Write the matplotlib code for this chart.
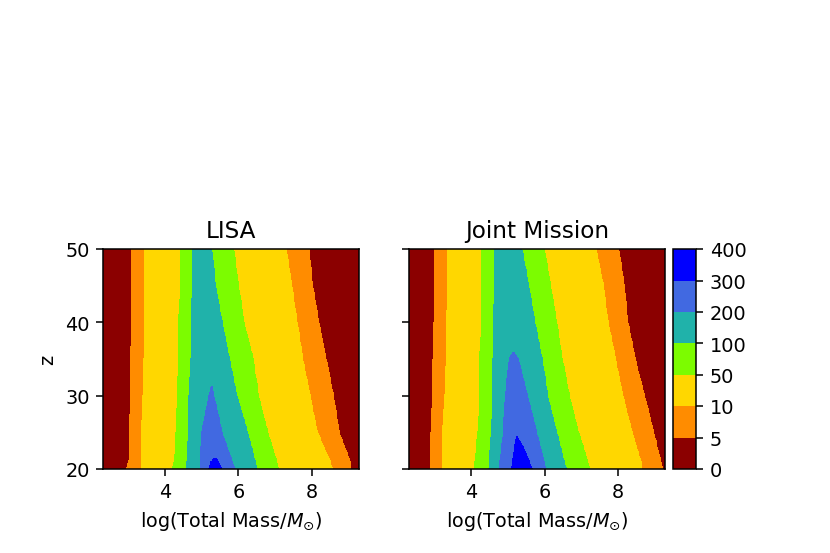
import numpy as np
import matplotlib
matplotlib.use("Agg")
import matplotlib.pyplot as plt

# Contour levels and colours
levels = [0, 5, 10, 50, 100, 200, 300, 400]
colors = ["darkred", "darkorange", "gold", "lawngreen",
          "lightseagreen", "royalblue", "blue"]
band_values = [2.5, 7.5, 30, 75, 150, 250, 350]

z_rows = [20, 21, 25, 30, 35, 40, 45, 50]

# LISA: x position (log total mass) of each contour edge at each z row
lisa_5L = [2.95, 3.00, 3.03, 3.05, 3.05, 3.08, 3.10, 3.10]
lisa_10L = [3.35, 3.35, 3.37, 3.40, 3.42, 3.43, 3.45, 3.45]
lisa_50L = [4.20, 4.25, 4.30, 4.33, 4.35, 4.37, 4.42, 4.43]
lisa_100L = [4.60, 4.60, 4.63, 4.66, 4.70, 4.72, 4.75, 4.75]
lisa_100R = [6.50, 6.45, 6.25, 5.95, 5.75, 5.55, 5.37, 5.27]
lisa_50R = [7.10, 7.05, 6.80, 6.55, 6.40, 6.15, 6.00, 5.87]
lisa_10R = [8.55, 8.50, 8.15, 7.95, 7.75, 7.60, 7.45, 7.30]
lisa_5R = [9.05, 9.05, 8.75, 8.60, 8.40, 8.20, 8.03, 7.93]
lisa_200_z = [20, 25, 30, 31.5]
lisa_200L = [4.95, 5.00, 5.20, 5.27]
lisa_200R = [5.90, 5.55, 5.33, 5.27]
lisa_300_z = [20, 21, 21.6]
lisa_300L = [5.20, 5.25, 5.37]
lisa_300R = [5.55, 5.45, 5.37]

# Joint Mission
joint_5L = [2.88, 2.88, 2.90, 2.93, 2.96, 2.98, 3.00, 3.00]
joint_10L = [3.23, 3.23, 3.23, 3.28, 3.33, 3.33, 3.36, 3.36]
joint_50L = [4.08, 4.10, 4.18, 4.23, 4.23, 4.28, 4.30, 4.30]
joint_100L = [4.48, 4.50, 4.55, 4.58, 4.60, 4.61, 4.63, 4.64]
joint_100R = [6.60, 6.53, 6.33, 6.08, 5.93, 5.73, 5.56, 5.38]
joint_50R = [7.23, 7.18, 6.93, 6.68, 6.48, 6.33, 6.16, 6.00]
joint_10R = [8.63, 8.63, 8.38, 8.13, 7.93, 7.73, 7.60, 7.40]
joint_5R = [9.23, 9.18, 8.98, 8.73, 8.48, 8.28, 8.18, 8.03]
joint_200_z = [20, 21, 25, 30, 35, 36]
joint_200L = [4.78, 4.78, 4.88, 4.93, 5.03, 5.15]
joint_200R = [6.03, 5.98, 5.78, 5.53, 5.28, 5.15]
joint_300_z = [20, 21, 23, 24.5]
joint_300L = [5.09, 5.13, 5.18, 5.24]
joint_300R = [5.66, 5.58, 5.42, 5.24]

x_grid = np.linspace(2.3, 9.3, 351)
z_grid = np.linspace(20, 50, 151)


def build_field(outer, z200, l200, r200, z300, l300, r300):
    X, Z = np.meshgrid(x_grid, z_grid)
    band = np.zeros(X.shape, dtype=int)
    for k, (left, right) in enumerate(outer, start=1):
        lo = np.interp(z_grid, z_rows, left)[:, None]
        hi = np.interp(z_grid, z_rows, right)[:, None]
        band = np.where((X >= lo) & (X <= hi), k, band)
    for k, (zz, left, right) in ((5, (z200, l200, r200)), (6, (z300, l300, r300))):
        lo = np.interp(z_grid, zz, left, right=np.inf)[:, None]
        hi = np.interp(z_grid, zz, right, right=-np.inf)[:, None]
        band = np.where((X >= lo) & (X <= hi), k, band)
    return X, Z, np.array(band_values)[band]


lisa = build_field([(lisa_5L, lisa_5R), (lisa_10L, lisa_10R),
                    (lisa_50L, lisa_50R), (lisa_100L, lisa_100R)],
                   lisa_200_z, lisa_200L, lisa_200R,
                   lisa_300_z, lisa_300L, lisa_300R)
joint = build_field([(joint_5L, joint_5R), (joint_10L, joint_10R),
                     (joint_50L, joint_50R), (joint_100L, joint_100R)],
                    joint_200_z, joint_200L, joint_200R,
                    joint_300_z, joint_300L, joint_300R)

fig = plt.figure(figsize=(6.0, 4.0), dpi=138.4)
ax1 = fig.add_axes([103 / 830, 84 / 554, 256 / 830, 220 / 554])
ax2 = fig.add_axes([409 / 830, 84 / 554, 256 / 830, 220 / 554], sharey=ax1)
cax = fig.add_axes([672.7 / 830, 84 / 554, 23.3 / 830, 220 / 554])

cs = ax1.contourf(*lisa, levels=levels, colors=colors)
ax2.contourf(*joint, levels=levels, colors=colors)

ax1.set_title("LISA")
ax2.set_title("Joint Mission")
for ax in (ax1, ax2):
    ax.set_xlabel(r"log(Total Mass/$M_{\odot}$)")
    ax.set_xticks([4, 6, 8])
ax1.set_yticks([20, 30, 40, 50])
ax1.set_ylabel("z")
plt.setp(ax2.get_yticklabels(), visible=False)

cb = fig.colorbar(cs, cax=cax, ticks=levels)

fig.savefig("out.png", dpi=138.4)
